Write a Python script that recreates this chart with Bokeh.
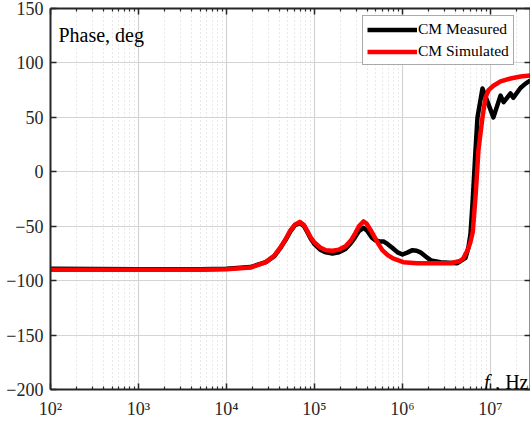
from bokeh.plotting import figure
from bokeh.models import (Range1d, FixedTicker, LinearAxis, LogAxis, Legend, LegendItem,
                          Label, CustomJSTickFormatter)
from bokeh.embed import file_html
from bokeh.resources import INLINE

# ---- data ----
meas_f = [1e2, 1e3, 5e3, 1e4, 1.87e4, 2.8e4, 3.5e4, 4.1e4, 4.7e4, 5.3e4, 6e4, 6.8e4, 7.6e4,
          8.3e4, 9e4, 1.0e5, 1.16e5, 1.35e5, 1.6e5, 1.9e5, 2.25e5, 2.6e5, 2.9e5, 3.2e5, 3.6e5,
          4e5, 4.5e5, 4.93e5, 5.5e5, 6.08e5, 6.8e5, 7.7e5, 8.8e5, 1e6, 1.15e6, 1.3e6, 1.45e6,
          1.6e6, 1.85e6, 2.1e6, 2.7e6, 4.2e6, 5.2e6, 5.6e6, 5.93e6, 6.3e6, 6.76e6, 7.12e6,
          8.11e6, 1.08e7, 1.3e7, 1.41e7, 1.69e7, 1.82e7, 2.19e7, 2.5e7, 2.85e7]
meas_phase = [-89, -89.5, -89.5, -89, -87.5, -83, -77.5, -70, -62.5, -55, -49, -47, -50,
              -55.5, -61, -66.5, -71.5, -74, -75, -74, -71, -65.5, -60, -54.5, -51.5,
              -54.5, -60.5, -63, -64, -64, -66.5, -70, -74, -76, -74, -72, -72.5,
              -74, -78, -81.4, -83, -84, -79, -70, -57, -25, 20, 50,
              76.5, 50, 70, 64, 72, 68, 77, 81, 84]

sim_f = [1e2, 1e3, 5e3, 1e4, 1.87e4, 2.8e4, 3.5e4, 4.1e4, 4.7e4, 5.3e4, 6e4, 6.8e4, 7.6e4,
         8.3e4, 9e4, 1.0e5, 1.16e5, 1.35e5, 1.6e5, 1.9e5, 2.25e5, 2.6e5, 2.9e5, 3.2e5, 3.6e5,
         3.9e5, 4.3e5, 4.7e5, 5.3e5, 5.9e5, 6.8e5, 7.8e5, 1.02e6, 1.47e6, 3.5e6, 4.5e6,
         4.9e6, 5.5e6, 5.9e6, 6.3e6, 6.8e6, 7.3e6, 8.11e6, 8.77e6, 9.5e6, 1.08e7, 1.3e7,
         1.69e7, 2.2e7, 2.85e7]
sim_phase = [-90, -90, -90, -89.5, -88, -83, -77, -69.5, -62, -54, -48.5, -46, -49,
             -54.5, -60, -65, -69.5, -72, -72.5, -71.5, -68.5, -63, -56.5, -50, -45.6,
             -47.5, -53, -58.5, -66, -72, -76.5, -79.6, -83, -84, -84, -82,
             -79.6, -72, -65, -55, -20, 20, 50, 68, 75, 79, 83,
             85.7, 87.5, 88.5]

x_major = [1e2, 1e3, 1e4, 1e5, 1e6, 1e7]
x_minor = [k * 10.0 ** e for e in range(2, 8) for k in range(2, 10)]
y_major = [-200, -150, -100, -50, 0, 50, 100, 150]

FONT = "Liberation Serif"
INK = "#262626"

p = figure(width=530, height=421, x_axis_type="log",
           x_range=Range1d(1e2, 2.85e7), y_range=Range1d(-200, 150),
           output_backend="svg", toolbar_location=None,
           min_border_left=50, min_border_right=0, min_border_top=8, min_border_bottom=32)
p.outline_line_color = None
p.background_fill_color = "white"
p.border_fill_color = "white"

xt = FixedTicker(ticks=x_major, minor_ticks=x_minor)
yt = FixedTicker(ticks=y_major, minor_ticks=[])

fmt = CustomJSTickFormatter(code="""
const s = {'0':'\u2070','1':'\u00b9','2':'\u00b2','3':'\u00b3','4':'\u2074','5':'\u2075',
           '6':'\u2076','7':'\u2077','8':'\u2078','9':'\u2079','-':'\u207b'};
const e = Math.round(Math.log10(tick));
return '10' + String(e).split('').map(c => s[c]).join('');
""")
blank = CustomJSTickFormatter(code="return '';")

def style(ax, labels=True):
    ax.axis_line_width = 2
    ax.axis_line_color = INK
    ax.major_tick_in = 6
    ax.major_tick_out = 0
    ax.minor_tick_in = 3
    ax.minor_tick_out = 0
    ax.major_tick_line_width = 1.5
    ax.minor_tick_line_width = 1.2
    ax.major_tick_line_color = INK
    ax.minor_tick_line_color = INK
    ax.major_label_text_font = FONT
    ax.major_label_text_color = INK
    ax.major_label_text_font_size = "18px"
    if not labels:
        ax.formatter = blank
        ax.major_label_standoff = 0

xa = p.xaxis[0]
xa.ticker = xt
xa.formatter = fmt
style(xa)
xa.major_label_standoff = 9

ya = p.yaxis[0]
ya.ticker = yt
style(ya)
ya.major_label_standoff = 7

top = LogAxis(ticker=xt)
style(top, labels=False)
p.add_layout(top, "above")

right = LinearAxis(ticker=yt)
style(right, labels=False)
p.add_layout(right, "right")

p.xgrid.ticker = xt
p.ygrid.ticker = yt
p.xgrid.grid_line_color = "#d4d4d4"
p.xgrid.grid_line_width = 1.2
p.xgrid.minor_grid_line_color = "#d2d2d2"
p.xgrid.minor_grid_line_dash = "1 3"
p.ygrid.grid_line_color = "#d4d4d4"
p.ygrid.grid_line_width = 1.2

r_meas = p.line(meas_f, meas_phase, line_color="black", line_width=4.5, line_join="round")
r_sim = p.line(sim_f, sim_phase, line_color="#ff0000", line_width=4.5, line_join="round")

legend = Legend(items=[LegendItem(label="CM Measured", renderers=[r_meas]),
                       LegendItem(label="CM Simulated", renderers=[r_sim])],
                location=(312, 324), padding=4, spacing=4, margin=0,
                label_height=15, glyph_height=15, glyph_width=50, label_standoff=1,
                border_line_color="#555555", border_line_width=1,
                background_fill_color="white", background_fill_alpha=1.0,
                label_text_font=FONT, label_text_font_size="15.5px", label_text_color="black")
p.add_layout(legend)

p.add_layout(Label(x=123, y=126, text="Phase, deg", text_font=FONT, text_font_size="20px",
                   text_color="black", text_baseline="alphabetic"))
p.add_layout(Label(x=2.85e7, y=-193.4, x_offset=-2, text=", Hz", text_font=FONT,
                   text_font_size="20px", text_color="black", text_align="right",
                   text_baseline="alphabetic"))
p.add_layout(Label(x=2.85e7, y=-193.4, x_offset=-41, text="f", text_font=FONT,
                   text_font_style="italic", text_font_size="20px", text_color="black",
                   text_align="right", text_baseline="alphabetic"))

open("out.html", "w").write(file_html(p, INLINE))
